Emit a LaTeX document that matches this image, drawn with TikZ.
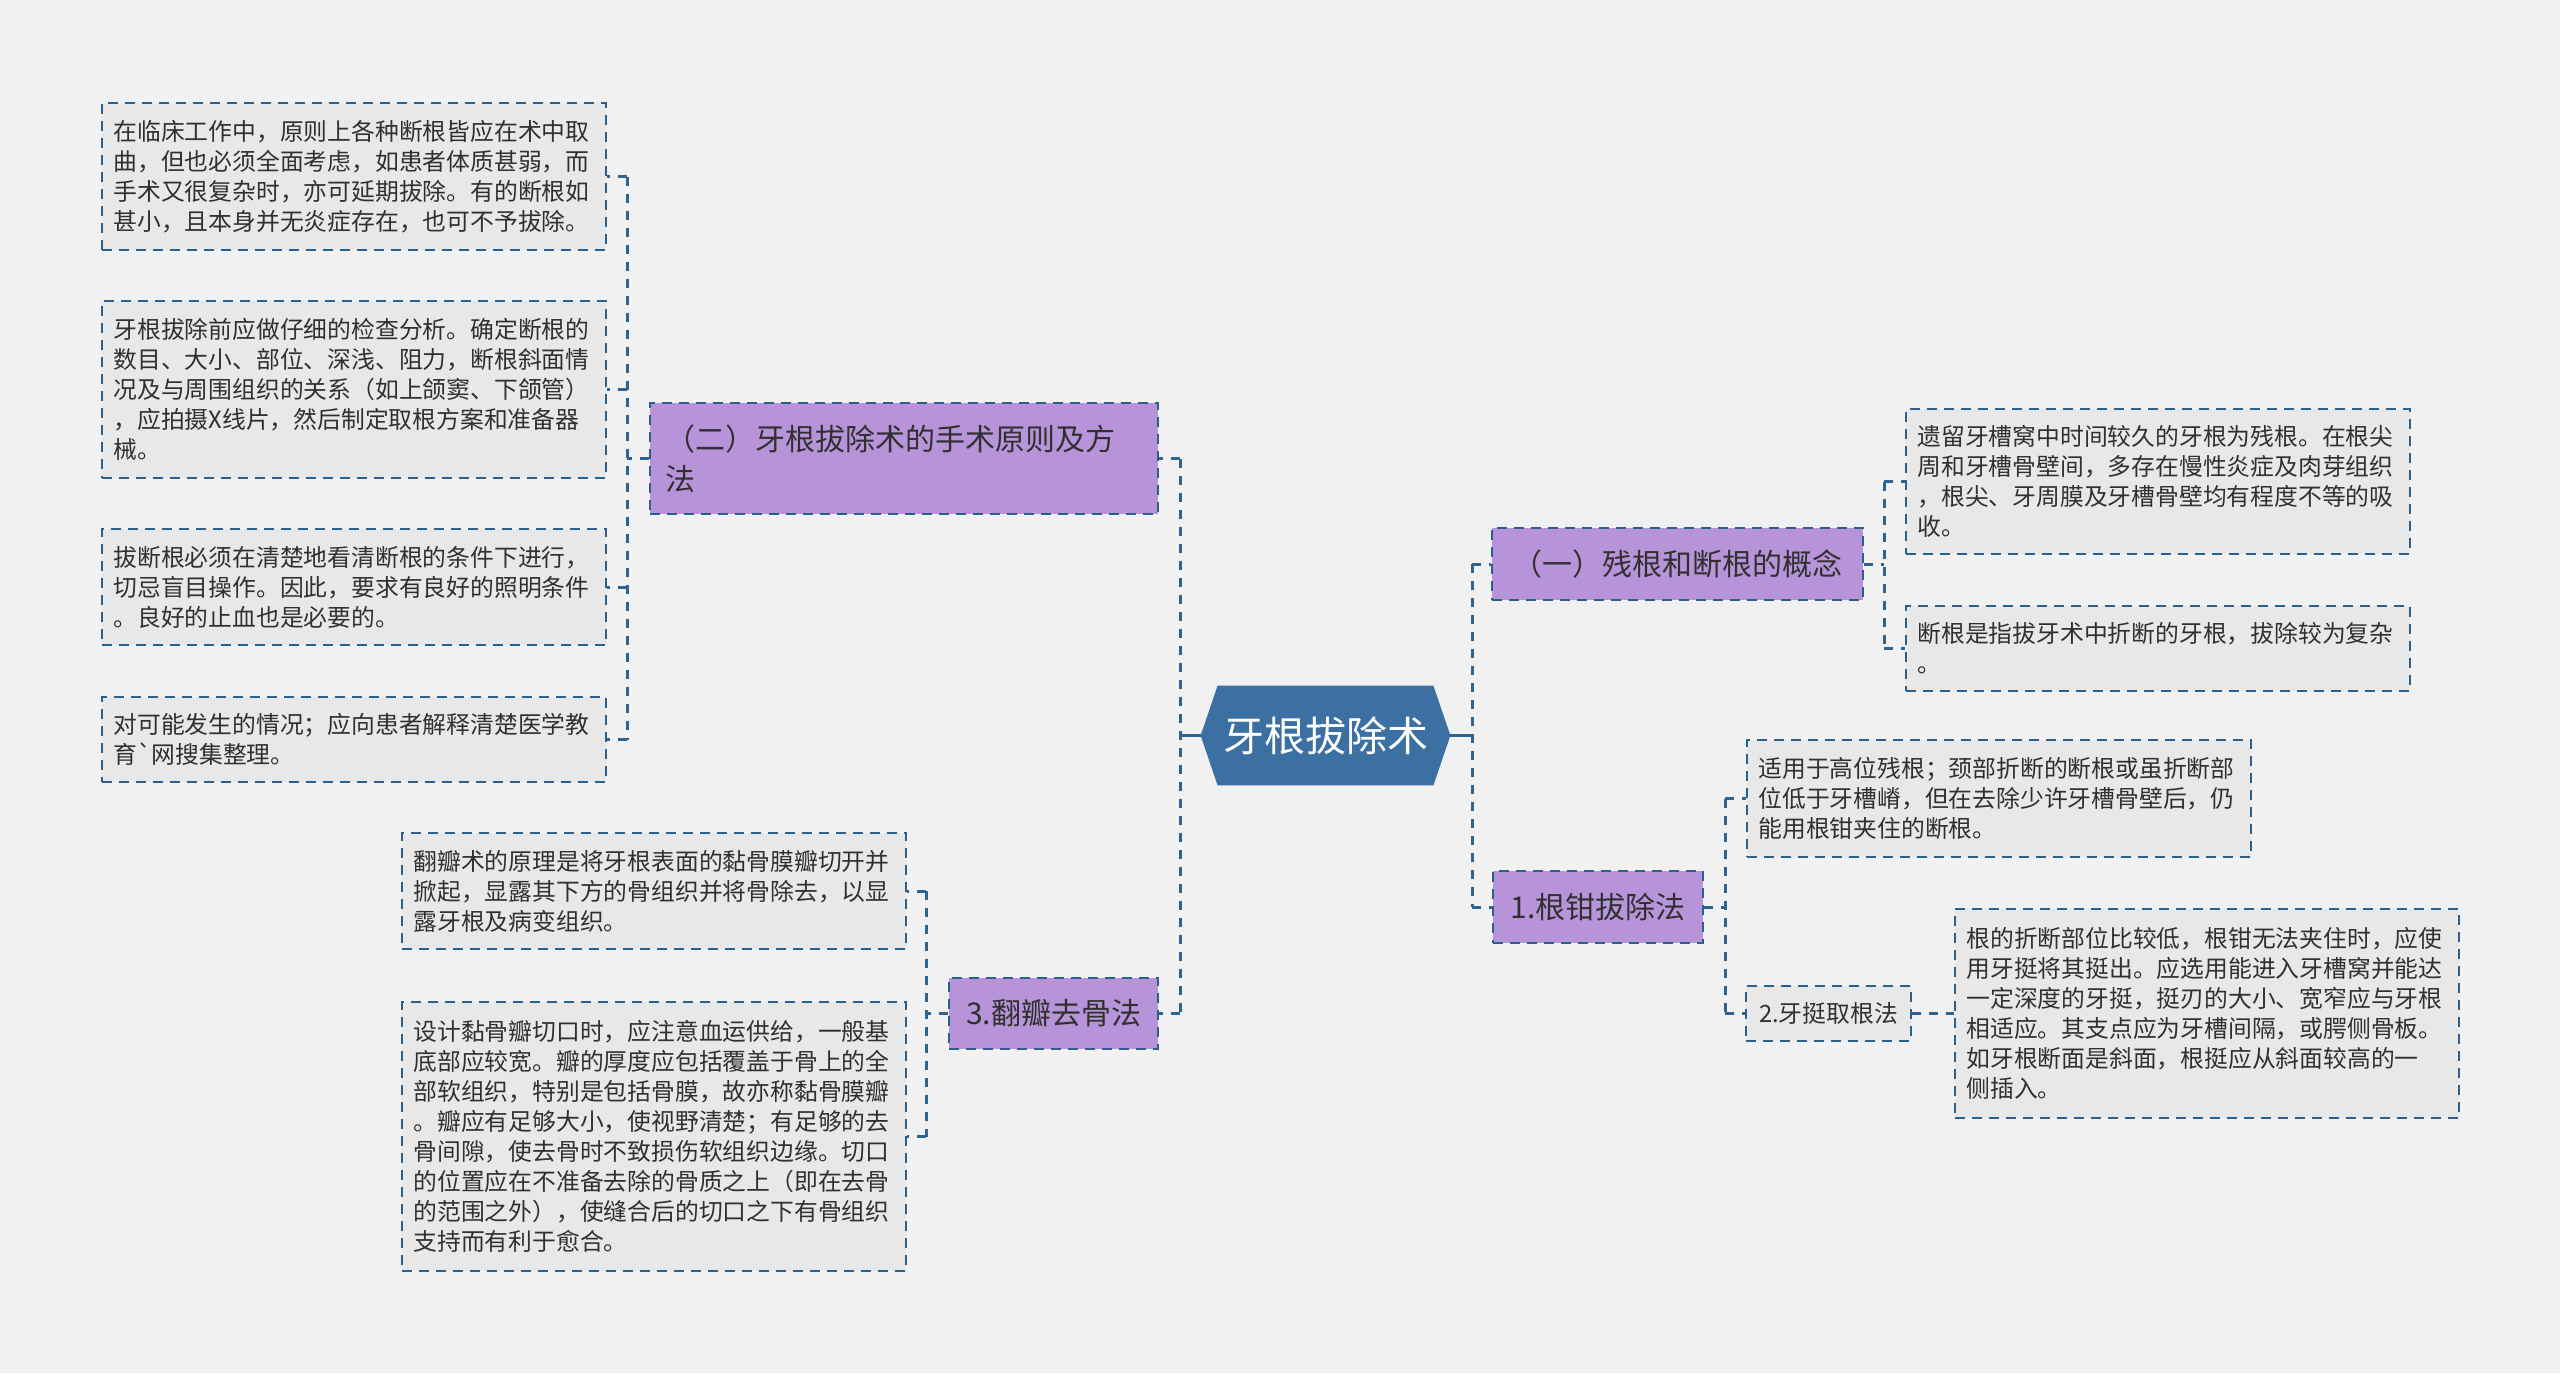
\documentclass[tikz,border=0pt]{standalone}
\usepackage{fontspec}
\setmainfont{Noto Sans CJK SC}[Ligatures=TeXOff]
\pgfdeclarelayer{back}
\pgfsetlayers{back,main}
\definecolor{bgc}{HTML}{F1F1F1}
\definecolor{leaff}{HTML}{E8E8E8}
\definecolor{bordc}{HTML}{2D5F8A}
\definecolor{connc}{HTML}{2F6390}
\definecolor{purp}{HTML}{B794D9}
\definecolor{rootc}{HTML}{3C70A3}
\definecolor{txt}{HTML}{303030}
\tikzset{
  leaf/.style={draw=bordc, fill=leaff, line width=1pt, dash pattern=on 5pt off 3.5pt,
    text=txt, font=\fontsize{11.9pt}{15pt}\selectfont, align=left,
    text width=240pt, inner xsep=6pt, inner ysep=0pt},
  purple/.style={draw=bordc, fill=purp, line width=1pt, dash pattern=on 5pt off 3.5pt,
    text=txt, font=\fontsize{15pt}{20pt}\selectfont, inner sep=0pt},
  smallnode/.style={draw=bordc, fill=leaff, line width=1pt, dash pattern=on 5pt off 3.5pt,
    text=txt, font=\fontsize{11.9pt}{15pt}\selectfont, inner sep=0pt},
  rootnode/.style={inner sep=0pt, text=white, font=\fontsize{20.5pt}{24pt}\selectfont},
  conn/.style={draw=connc, line width=1.5pt, dash pattern=on 4.5pt off 4pt},
  connsolid/.style={draw=connc, line width=1.5pt}
}
\begin{document}
\begin{tikzpicture}[x=0.5pt,y=-0.5pt]
\useasboundingbox (0,0) rectangle (2560,1373);
\begin{pgfonlayer}{back}
\fill[bgc] (0,0) rectangle (2560,1373);
\end{pgfonlayer}

% root
\node[rootnode, minimum width=124.5pt, minimum height=49.5pt] (root) at (1325.5,735.5) {牙根拔除术};
\begin{pgfonlayer}{back}
\fill[rootc] (root.west) -- ([xshift=8.5pt]root.north west) -- ([xshift=-8.5pt]root.north east)
  -- (root.east) -- ([xshift=-8.5pt]root.south east) -- ([xshift=8.5pt]root.south west) -- cycle;
\end{pgfonlayer}

% main branches
\node[purple, minimum width=254pt, minimum height=55.5pt, align=left, text width=239pt] (P2) at (904,458.5)
  {（二）牙根拔除术的手术原则及方\\法};
\node[purple, minimum width=104.5pt, minimum height=35.5pt] (P3) at (1053.5,1013) {3.翻瓣去骨法};
\node[purple, minimum width=185.5pt, minimum height=36pt] (P1) at (1677.5,564) {（一）残根和断根的概念};
\node[purple, minimum width=105pt, minimum height=36pt] (P4) at (1598,907) {1.根钳拔除法};

% left leaves
\node[leaf, minimum height=73.5pt] (L1) at (353.5,176.5)
  {在临床工作中，原则上各种断根皆应在术中取\\曲，但也必须全面考虑，如患者体质甚弱，而\\手术又很复杂时，亦可延期拔除。有的断根如\\甚小，且本身并无炎症存在，也可不予拔除。};
\node[leaf, minimum height=88.5pt] (L2) at (353.5,389.5)
  {牙根拔除前应做仔细的检查分析。确定断根的\\数目、大小、部位、深浅、阻力，断根斜面情\\况及与周围组织的关系（如上颌窦、下颌管）\\，应拍摄X线片，然后制定取根方案和准备器\\械。};
\node[leaf, minimum height=58pt] (L3) at (353.5,587)
  {拔断根必须在清楚地看清断根的条件下进行，\\切忌盲目操作。因此，要求有良好的照明条件\\。良好的止血也是必要的。};
\node[leaf, minimum height=42.5pt] (L4) at (353.5,739.5)
  {对可能发生的情况；应向患者解释清楚医学教\\育`网搜集整理。};

\node[leaf, minimum height=58pt] (F1) at (653.5,891)
  {翻瓣术的原理是将牙根表面的黏骨膜瓣切开并\\掀起，显露其下方的骨组织并将骨除去，以显\\露牙根及病变组织。};
\node[leaf, minimum height=134.5pt] (F2) at (653.5,1136.5)
  {设计黏骨瓣切口时，应注意血运供给，一般基\\底部应较宽。瓣的厚度应包括覆盖于骨上的全\\部软组织，特别是包括骨膜，故亦称黏骨膜瓣\\。瓣应有足够大小，使视野清楚；有足够的去\\骨间隙，使去骨时不致损伤软组织边缘。切口\\的位置应在不准备去除的骨质之上（即在去骨\\的范围之外），使缝合后的切口之下有骨组织\\支持而有利于愈合。};

% right leaves
\node[leaf, minimum height=72.5pt] (R1) at (2157.5,481.5)
  {遗留牙槽窝中时间较久的牙根为残根。在根尖\\周和牙槽骨壁间，多存在慢性炎症及肉芽组织\\，根尖、牙周膜及牙槽骨壁均有程度不等的吸\\收。};
\node[leaf, minimum height=42.5pt] (R2) at (2157.5,648.5)
  {断根是指拔牙术中折断的牙根，拔除较为复杂\\。};
\node[leaf, minimum height=58.5pt] (G1) at (1998.5,798.5)
  {适用于高位残根；颈部折断的断根或虽折断部\\位低于牙槽嵴，但在去除少许牙槽骨壁后，仍\\能用根钳夹住的断根。};
\node[smallnode, minimum width=82.5pt, minimum height=27.5pt] (N2) at (1828.5,1013.5) {2.牙挺取根法};
\node[leaf, minimum height=104.5pt] (G2) at (2206.5,1013.5)
  {根的折断部位比较低，根钳无法夹住时，应使\\用牙挺将其挺出。应选用能进入牙槽窝并能达\\一定深度的牙挺，挺刃的大小、宽窄应与牙根\\相适应。其支点应为牙槽间隔，或腭侧骨板。\\如牙根断面是斜面，根挺应从斜面较高的一\\侧插入。};

% trunk coordinates
\coordinate (tL) at (1180,0);
\coordinate (tR) at (1472,0);
\coordinate (t2) at (627,0);
\coordinate (t3) at (926,0);
\coordinate (t1) at (1884,0);
\coordinate (t4) at (1725,0);

% root connectors
\draw[connsolid] (root.west) -- (root.west -| tL);
\draw[conn] (P2.east -| tL) -- (P3.east -| tL);
\draw[conn] (P2.east -| tL) -- (P2.east);
\draw[conn] (P3.east -| tL) -- (P3.east);
\draw[connsolid] (root.east) -- (root.east -| tR);
\draw[conn] (P1.west -| tR) -- (P4.west -| tR);
\draw[conn] (P1.west -| tR) -- (P1.west);
\draw[conn] (P4.west -| tR) -- (P4.west);

% P2 connectors
\draw[conn] (P2.west) -- (P2.west -| t2);
\draw[conn] (L1.east -| t2) -- (L4.east -| t2);
\draw[conn] (L1.east -| t2) -- (L1.east);
\draw[conn] (L2.east -| t2) -- (L2.east);
\draw[conn] (L3.east -| t2) -- (L3.east);
\draw[conn] (L4.east -| t2) -- (L4.east);

% P3 connectors
\draw[conn] (P3.west) -- (P3.west -| t3);
\draw[conn] (F1.east -| t3) -- (F2.east -| t3);
\draw[conn] (F1.east -| t3) -- (F1.east);
\draw[conn] (F2.east -| t3) -- (F2.east);

% P1 connectors
\draw[conn] (P1.east) -- (P1.east -| t1);
\draw[conn] (R1.west -| t1) -- (R2.west -| t1);
\draw[conn] (R1.west -| t1) -- (R1.west);
\draw[conn] (R2.west -| t1) -- (R2.west);

% P4 connectors
\draw[conn] (P4.east) -- (P4.east -| t4);
\draw[conn] (G1.west -| t4) -- (N2.west -| t4);
\draw[conn] (G1.west -| t4) -- (G1.west);
\draw[conn] (N2.west -| t4) -- (N2.west);

% N2 -> G2
\draw[conn] (N2.east) -- (G2.west);
\end{tikzpicture}
\end{document}
